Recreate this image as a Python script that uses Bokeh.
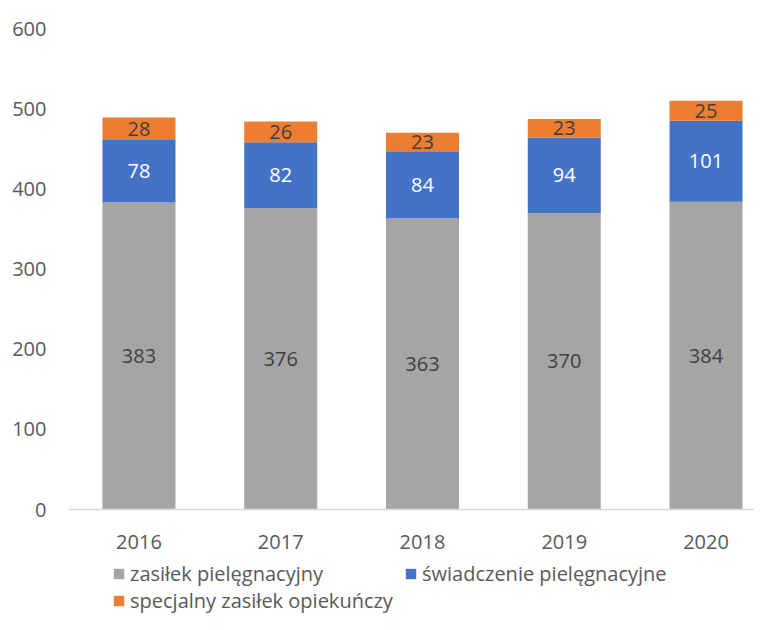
from bokeh.plotting import figure
from bokeh.models import (Range1d, FixedTicker, ColumnDataSource, LabelSet,
                          Legend, LegendItem, Span)
from bokeh.core.properties import value
from bokeh.embed import file_html
from bokeh.resources import INLINE

years = ["2016", "2017", "2018", "2019", "2020"]
zasilek = [383, 376, 363, 370, 384]
swiadczenie = [78, 82, 84, 94, 101]
specjalny = [28, 26, 23, 23, 25]
series_names = ["zasiłek pielęgnacyjny", "świadczenie pielęgnacyjne",
                "specjalny zasiłek opiekuńczy"]
colors = ["#A5A5A5", "#4472C4", "#ED7D31"]
label_colors = ["#404040", "#FFFFFF", "#404040"]
y_ticks = [0, 100, 200, 300, 400, 500, 600]

FONT = "Open Sans"
TXT = "#595959"

xs = list(range(len(years)))
series = [zasilek, swiadczenie, specjalny]

# frame spans fig y 28..614; value 0 sits at fig y 509, 600 at fig y 28
y_top = 600
y_bottom = -(614 - 509) * y_top / (509 - 28)

p = figure(width=754, height=614, output_backend="svg", toolbar_location=None,
           x_range=Range1d(-0.497, 4.342), y_range=Range1d(y_bottom, y_top),
           x_axis_location=None,
           min_border_left=68, min_border_right=0, min_border_top=28,
           min_border_bottom=0)
p.outline_line_color = None
p.grid.visible = False
p.background_fill_color = "white"
p.border_fill_color = "white"

bottoms = [0] * len(xs)
renderers = []
for vals, col, lcol in zip(series, colors, label_colors):
    tops = [b + v for b, v in zip(bottoms, vals)]
    mids = [(b + t) / 2 for b, t in zip(bottoms, tops)]
    src = ColumnDataSource(dict(x=xs, bottom=bottoms, top=tops, mid=mids,
                                lab=[str(v) for v in vals]))
    r = p.vbar(x="x", bottom="bottom", top="top", width=0.515, source=src,
               fill_color=col, line_color=None)
    renderers.append(r)
    p.add_layout(LabelSet(x="x", y="mid", text="lab", source=src,
                          text_align="center", text_baseline="middle",
                          text_font=value(FONT), text_font_size="20px",
                          text_color=lcol))
    bottoms = tops

# category axis: baseline + year labels
p.add_layout(Span(location=0, dimension="width", line_color="#D9D9D9",
                  line_width=1.5))
p.text(x=xs, y=[0] * len(xs), text=years, y_offset=32,
       text_align="center", text_baseline="middle",
       text_font=value(FONT), text_font_size="20px", text_color=TXT)

p.yaxis.ticker = FixedTicker(ticks=y_ticks)
p.yaxis.axis_line_color = None
p.yaxis.major_tick_line_color = None
p.yaxis.minor_tick_line_color = None
p.yaxis.major_label_standoff = 16
p.yaxis.major_label_text_font = FONT
p.yaxis.major_label_text_font_size = "20px"
p.yaxis.major_label_text_color = TXT

legend = Legend(items=[LegendItem(label=n, renderers=[r])
                       for n, r in zip(series_names, renderers)],
                orientation="horizontal", nrows=2,
                location=(44, 0), padding=0, margin=0,
                border_line_color=None, background_fill_alpha=0,
                glyph_width=13, glyph_height=13, label_standoff=5,
                label_width=274, label_height=22, spacing=0,
                label_text_font=FONT, label_text_font_size="20px",
                label_text_color=TXT)
p.add_layout(legend, "center")

open("out.html", "w").write(file_html(p, INLINE))
